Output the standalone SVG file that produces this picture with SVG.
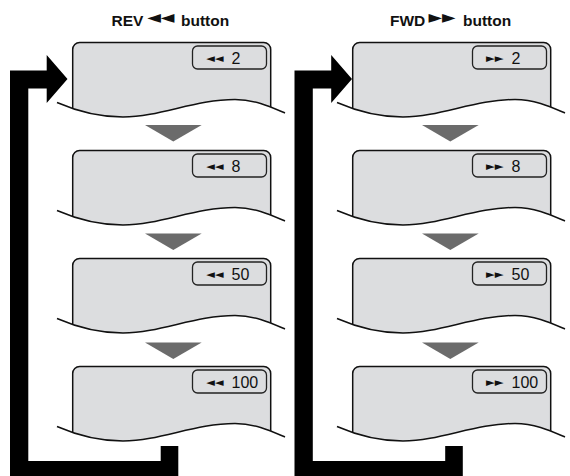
<svg xmlns="http://www.w3.org/2000/svg" xmlns:xlink="http://www.w3.org/1999/xlink" width="570" height="476" viewBox="0 0 570 476">
  <style>
    .title { font-family: "Liberation Sans", Arial, sans-serif; font-weight: bold; font-size: 15.5px; fill: #111; }
    .tsym { font-family: "DejaVu Sans", sans-serif; font-size: 17.5px; }
    .screen { fill: #dcdddf; stroke: #111; stroke-width: 1.5; }
    .wave { fill: none; stroke: #111; stroke-width: 1.5; }
    .lbl { fill: #dcdddf; stroke: #222; stroke-width: 1.3; }
    .val { font-family: "Liberation Sans", Arial, sans-serif; font-size: 16px; fill: #111; }
    .sym { font-family: "DejaVu Sans", sans-serif; font-size: 11.5px; }
    .step { fill: #6b6b6b; }
    .loop { fill: #000; }
  </style>
  <defs>
    <clipPath id="aboveWave">
      <path d="M57,-5 L57,60 C 80,70 100,74.5 123,74.5 C 160,74.5 195,57 235,57 C 255,57 270,64 285,70.5 L285,-5 Z"/>
    </clipPath>
    <g id="screen">
      <rect class="screen" x="72.7" y="0" width="198" height="85" rx="7" clip-path="url(#aboveWave)"/>
      <path class="wave" d="M57,60 C 80,70 100,74.5 123,74.5 C 160,74.5 195,57 235,57 C 255,57 270,64 285,70.5"/>
      <rect class="lbl" x="192.5" y="3.5" width="74" height="23" rx="5"/>
    </g>
  </defs>

  <text class="title" y="25.5"><tspan x="111.5">REV </tspan><tspan class="tsym" x="147.5" y="22.6">◄◄</tspan><tspan x="181" y="25.5">button</tspan></text>
  <text class="title" y="25.5"><tspan x="390">FWD </tspan><tspan class="tsym" x="428.5" y="22.6">►►</tspan><tspan x="463" y="25.5">button</tspan></text>

  <g id="connectors">
    <polygon class="loop" points="10,476 10,70.5 46.7,70.5 46.7,55 67.5,79 46.7,103 46.7,88.5 28.3,88.5 28.3,461 160.7,461 160.7,446 178.3,446 178.3,476"/>
    <polygon class="loop" points="294.5,476 294.5,70.5 331.2,70.5 331.2,55 352,79 331.2,103 331.2,88.5 312.8,88.5 312.8,461 445.2,461 445.2,446 462.8,446 462.8,476"/>
    <polygon class="step" points="145,125 201.7,125 173.3,141.5"/>
    <polygon class="step" points="145,233.5 201.7,233.5 173.3,250"/>
    <polygon class="step" points="145,342.5 201.7,342.5 173.3,359"/>
    <polygon class="step" points="422,125 478.7,125 450.3,141.5"/>
    <polygon class="step" points="422,233.5 478.7,233.5 450.3,250"/>
    <polygon class="step" points="422,342.5 478.7,342.5 450.3,359"/>
  </g>

  <g id="rev-2" transform="translate(0,42.5)">
    <use xlink:href="#screen"/>
    <text class="val"><tspan class="sym" x="206" y="19.4">◄◄</tspan><tspan x="231.5" y="21.5">2</tspan></text>
  </g>
  <g id="rev-8" transform="translate(0,150.5)">
    <use xlink:href="#screen"/>
    <text class="val"><tspan class="sym" x="206" y="19.4">◄◄</tspan><tspan x="231.5" y="21.5">8</tspan></text>
  </g>
  <g id="rev-50" transform="translate(0,258.5)">
    <use xlink:href="#screen"/>
    <text class="val"><tspan class="sym" x="206" y="19.4">◄◄</tspan><tspan x="231.5" y="21.5">50</tspan></text>
  </g>
  <g id="rev-100" transform="translate(0,366.5)">
    <use xlink:href="#screen"/>
    <text class="val"><tspan class="sym" x="206" y="19.4">◄◄</tspan><tspan x="231.5" y="21.5">100</tspan></text>
  </g>

  <g id="fwd-2" transform="translate(280,42.5)">
    <use xlink:href="#screen"/>
    <text class="val"><tspan class="sym" x="206" y="19.4">►►</tspan><tspan x="231.5" y="21.5">2</tspan></text>
  </g>
  <g id="fwd-8" transform="translate(280,150.5)">
    <use xlink:href="#screen"/>
    <text class="val"><tspan class="sym" x="206" y="19.4">►►</tspan><tspan x="231.5" y="21.5">8</tspan></text>
  </g>
  <g id="fwd-50" transform="translate(280,258.5)">
    <use xlink:href="#screen"/>
    <text class="val"><tspan class="sym" x="206" y="19.4">►►</tspan><tspan x="231.5" y="21.5">50</tspan></text>
  </g>
  <g id="fwd-100" transform="translate(280,366.5)">
    <use xlink:href="#screen"/>
    <text class="val"><tspan class="sym" x="206" y="19.4">►►</tspan><tspan x="231.5" y="21.5">100</tspan></text>
  </g>
</svg>
